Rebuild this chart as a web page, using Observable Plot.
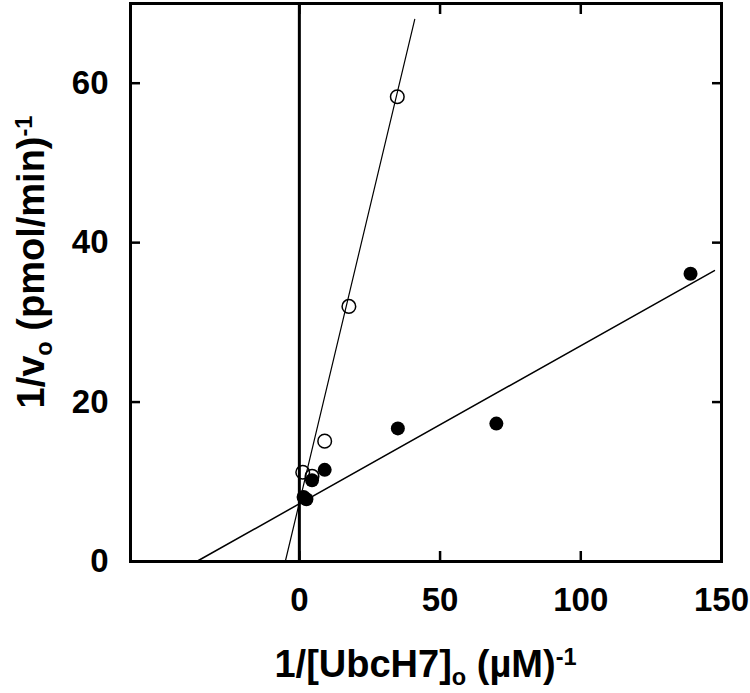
<!DOCTYPE html>
<html>
<head>
<meta charset="utf-8">
<script src="https://cdn.jsdelivr.net/npm/d3@7"></script>
<script src="https://cdn.jsdelivr.net/npm/@observablehq/plot@0.6"></script>
<style>
  html, body { margin: 0; padding: 0; background: #fff; }
  svg text { font-family: "Liberation Sans", Arial, sans-serif; font-weight: bold; }
</style>
</head>
<body>
<div id="chart"></div>
<script>
// Filled circles (●)
const filledX = [1.5, 2.5, 4.5, 9, 35, 70, 139];
const filledY = [8.1, 7.8, 10.2, 11.5, 16.7, 17.3, 36.1];
// Open circles (○)
const openX = [1.2, 4.5, 9, 17.6, 34.8];
const openY = [11.2, 10.7, 15.1, 32.0, 58.3];
// Fitted lines (end points)
const fitFilledX = [-36.5, 147.5];
const fitFilledY = [0, 36.5];
const fitOpenX = [-5, 41];
const fitOpenY = [0, 68];
// Axes
const xTicks = [0, 50, 100, 150];
const yTicks = [0, 20, 40, 60];
const xDomain = [-60, 150];
const yDomain = [0, 70];

const filled = filledX.map((x, i) => ({x, y: filledY[i]}));
const open = openX.map((x, i) => ({x, y: openY[i]}));
const lineF = fitFilledX.map((x, i) => ({x, y: fitFilledY[i]}));
const lineO = fitOpenX.map((x, i) => ({x, y: fitOpenY[i]}));

const W = 750, H = 693;
const mL = 130, mR = 29, mT = 3, mB = 132;
const FS = 33;   // tick labels
const LS = 38;   // axis titles

const plot = Plot.plot({
  width: W, height: H,
  marginLeft: mL, marginRight: mR, marginTop: mT, marginBottom: mB,
  style: {fontFamily: "Liberation Sans, Arial, sans-serif", fontSize: FS + "px", fontWeight: "bold", color: "black", background: "white", overflow: "visible"},
  x: {domain: xDomain},
  y: {domain: yDomain},
  marks: [
    Plot.line(lineF, {x: "x", y: "y", stroke: "black", strokeWidth: 1.5}),
    Plot.line(lineO, {x: "x", y: "y", stroke: "black", strokeWidth: 1.2}),
    Plot.ruleX([0], {stroke: "black", strokeWidth: 3}),
    Plot.dot(open, {x: "x", y: "y", r: 6.8, stroke: "black", strokeWidth: 1.5, fill: "none"}),
    Plot.dot(filled, {x: "x", y: "y", r: 7, fill: "black", stroke: "none"}),
    Plot.axisX(xTicks, {anchor: "bottom", tickSize: -10, tickPadding: 36, strokeWidth: 2.5, fontSize: FS, label: null}),
    Plot.axisX(xTicks, {anchor: "top", tickSize: -10, tickFormat: () => "", strokeWidth: 2.5, label: null}),
    Plot.axisY(yTicks, {anchor: "left", tickSize: -10, tickPadding: 32, strokeWidth: 2.5, fontSize: FS, label: null}),
    Plot.axisY(yTicks, {anchor: "right", tickSize: -10, tickFormat: () => "", strokeWidth: 2.5, label: null}),
    Plot.frame({stroke: "black", strokeWidth: 3})
  ]
});

const svg = d3.select(plot);
const cx = (mL + (W - mR)) / 2;

// X axis label: 1/[UbcH7]o (µM)-1
const xl = svg.append("text")
  .attr("x", cx).attr("y", 677)
  .attr("text-anchor", "middle")
  .style("font-size", LS + "px").style("font-weight", "bold").attr("fill", "black");
xl.append("tspan").text("1/[UbcH7]");
xl.append("tspan").attr("dy", "0.35em").style("font-size", "0.62em").text("o");
xl.append("tspan").attr("dy", "-0.22em").text(" (µM)");
xl.append("tspan").attr("dy", "-0.5em").style("font-size", "0.62em").text("-1");

// Y axis label: 1/vo (pmol/min)-1
const yl = svg.append("text")
  .attr("transform", `translate(44,262) rotate(-90)`)
  .attr("text-anchor", "middle")
  .style("font-size", LS + "px").style("font-weight", "bold").attr("fill", "black");
yl.append("tspan").text("1/v");
yl.append("tspan").attr("dy", "0.35em").style("font-size", "0.62em").text("o");
yl.append("tspan").attr("dy", "-0.22em").text(" (pmol/min)");
yl.append("tspan").attr("dy", "-0.5em").style("font-size", "0.62em").text("-1");

document.getElementById("chart").appendChild(plot);
</script>
</body>
</html>
